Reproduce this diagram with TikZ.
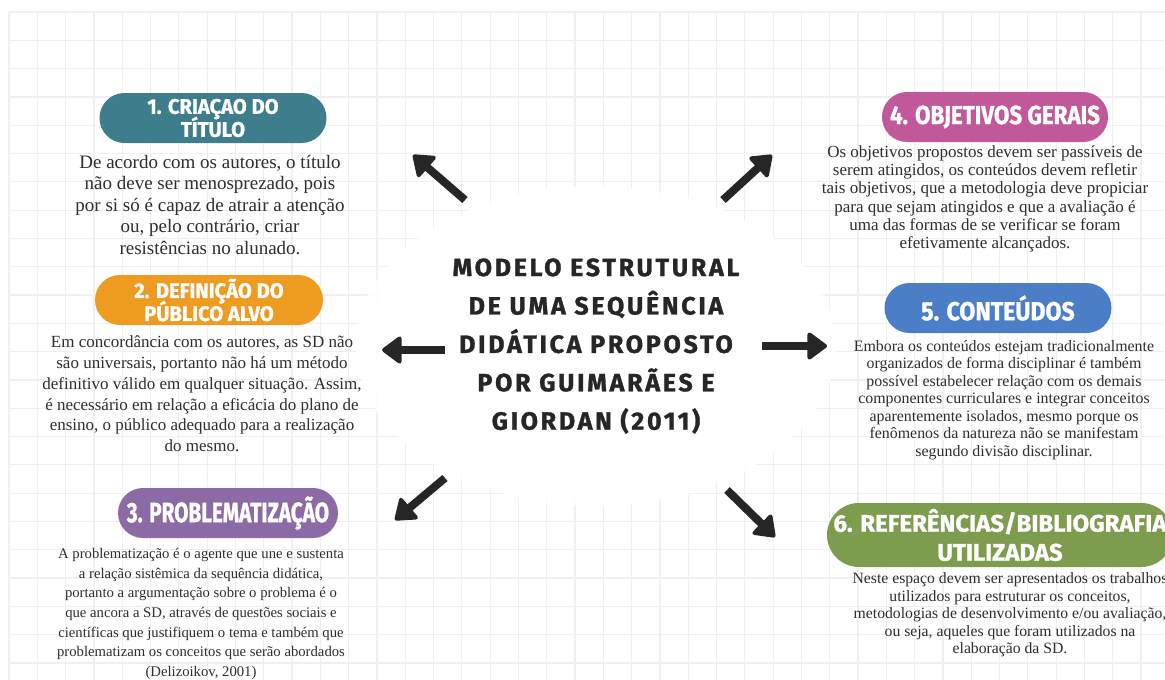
\documentclass[tikz,border=0pt]{standalone}
\usepackage{fontspec}
\usepackage{graphicx}
\setmainfont{Liberation Serif}
\newfontfamily\headfont[FakeBold=1.2]{Fira Sans}
\newfontfamily\titlefont[LetterSpace=11,FakeBold=1.2]{Fira Sans}
\usetikzlibrary{arrows.meta,fadings}

\definecolor{ink}{HTML}{262626}
\definecolor{bodyink}{HTML}{2E2E2E}
\definecolor{gridc}{HTML}{F0F0F0}
\definecolor{cteal}{HTML}{3E7E8C}
\definecolor{corange}{HTML}{EE9B22}
\definecolor{cpurple}{HTML}{8C6AA6}
\definecolor{cpink}{HTML}{C0589A}
\definecolor{cblue}{HTML}{4C7EC8}
\definecolor{colive}{HTML}{7E9C4E}

% soft white halo: opaque core, transparent rim
\pgfdeclareradialshading{haloshade}{\pgfpointorigin}{color(0bp)=(white); color(22bp)=(white); color(50bp)=(black); color(100bp)=(black)}
\pgfdeclarefading{halo}{\pgfuseshading{haloshade}}

% condensed heading label; lines separated by \cr, fixed line pitch
\newcommand\pilltext[4]{\scalebox{#1}[1]{\headfont\bfseries\fontsize{#2}{#3}\selectfont\lineskiplimit=-100pt\vbox{\halign{\hfil##\hfil\cr#4\crcr}}}}

\tikzset{
  gridline/.style={draw=gridc, line width=1.2pt},
  pill/.style={rounded corners=25pt, inner sep=0pt, text=white, minimum height=50pt},
  bodytext/.style={align=center, text=bodyink, inner sep=0pt},
  bigarrow/.style={draw=ink, line width=8pt, -{Triangle[length=21pt,width=30pt,line width=4pt,round]}}
}

\begin{document}
\begin{tikzpicture}[x=1pt,y=-1pt]
\useasboundingbox (0,0) rectangle (1165,680);
\clip (0,0) rectangle (1165,680);
\fill[white] (0,0) rectangle (1165,680);

% squared paper background
\foreach \i in {0,...,41} \draw[gridline] (9+28.3*\i,12) -- (9+28.3*\i,680);
\foreach \j in {0,...,23} \draw[gridline] (9,12+28.3*\j) -- (1165,12+28.3*\j);

% halo behind the central title
\fill[white, path fading=halo] (596,346) ellipse [x radius=240, y radius=160];

% central title
\node[font=\titlefont\bfseries\fontsize{25}{38.4}\selectfont, align=center, text=ink, inner sep=0pt] (title) at (596,346)
  {MODELO ESTRUTURAL\\DE UMA SEQUÊNCIA\\DIDÁTICA PROPOSTO\\POR GUIMARÃES E\\GIORDAN (2011)};

% headings
\node[pill, fill=cteal, minimum width=227pt] (p1) at (213,118)
  {\pilltext{0.96}{21}{23}{1. CRIAÇAO DO\cr TÍTULO}};
\node[pill, fill=corange, minimum width=228pt] (p2) at (209,300)
  {\pilltext{0.96}{21}{23}{2. DEFINIÇÃO DO\cr PÚBLICO ALVO}};
\node[pill, fill=cpurple, minimum width=220pt] (p3) at (228,513)
  {\pilltext{0.74}{28}{30}{3. PROBLEMATIZAÇÃO}};
\node[pill, fill=cpink, minimum width=226pt] (p4) at (995,117)
  {\pilltext{0.86}{26}{28}{4. OBJETIVOS GERAIS}};
\node[pill, fill=cblue, minimum width=227pt] (p5) at (998,308)
  {\pilltext{0.89}{26}{28}{5. CONTEÚDOS}};
\node[pill, fill=colive, minimum width=346pt, minimum height=64pt, rounded corners=32pt] (p6) at (1000,535)
  {\pilltext{1.0}{24}{29}{6. REFERÊNCIAS/BIBLIOGRAFIA\cr UTILIZADAS}};

% descriptions
\node[bodytext, font=\fontsize{19}{21.5}\selectfont] (t1) at (210,205)
  {De acordo com os autores, o título\\não deve ser menosprezado, pois\\por si só é capaz de atrair a atenção\\ou, pelo contrário, criar\\resistências no alunado.};
\node[bodytext, font=\fontsize{17}{20.8}\selectfont] (t2) at (202,394)
  {Em concordância com os autores, as SD não\\são universais, portanto não há um método\\definitivo válido em qualquer situação. Assim,\\é necessário em relação a eficácia do plano de\\ensino, o público adequado para a realização\\do mesmo.};
\node[bodytext, font=\fontsize{14.7}{19.6}\selectfont] (t3) at (201,614)
  {A problematização é o agente que une e sustenta\\a relação sistêmica da sequência didática,\\portanto a argumentação sobre o problema é o\\que ancora a SD, através de questões sociais e\\científicas que justifiquem o tema e também que\\problematizam os conceitos que serão abordados\\(Delizoikov, 2001)};
\node[bodytext, font=\fontsize{17}{18.3}\selectfont] (t4) at (985,199)
  {Os objetivos propostos devem ser passíveis de\\serem atingidos, os conteúdos devem refletir\\tais objetivos, que a metodologia deve propiciar\\para que sejam atingidos e que a avaliação é\\uma das formas de se verificar se foram\\efetivamente alcançados.};
\node[bodytext, font=\fontsize{15.9}{17.5}\selectfont] (t5) at (1004,400)
  {Embora os conteúdos estejam tradicionalmente\\organizados de forma disciplinar é também\\possível estabelecer relação com os demais\\componentes curriculares e integrar conceitos\\aparentemente isolados, mesmo porque os\\fenômenos da natureza não se manifestam\\segundo divisão disciplinar.};
\node[bodytext, font=\fontsize{15.7}{17.6}\selectfont] (t6) at (1010,615)
  {Neste espaço devem ser apresentados os trabalhos\\utilizados para estruturar os conceitos,\\metodologias de desenvolvimento e/ou avaliação,\\ou seja, aqueles que foram utilizados na\\elaboração da SD.};

% arrow ends
\coordinate (a1s) at (465,200); \coordinate (a1e) at (413,155);
\coordinate (a2s) at (445,350); \coordinate (a2e) at (382,350);
\coordinate (a3s) at (445,478); \coordinate (a3e) at (395,520);
\coordinate (a4s) at (723,200); \coordinate (a4e) at (772,155);
\coordinate (a5s) at (762,346); \coordinate (a5e) at (827,346);
\coordinate (a6s) at (727,490); \coordinate (a6e) at (775,537);

\draw[bigarrow] (a1s) -- (a1e);
\draw[bigarrow] (a2s) -- (a2e);
\draw[bigarrow] (a3s) -- (a3e);
\draw[bigarrow] (a4s) -- (a4e);
\draw[bigarrow] (a5s) -- (a5e);
\draw[bigarrow] (a6s) -- (a6e);
\end{tikzpicture}
\end{document}
